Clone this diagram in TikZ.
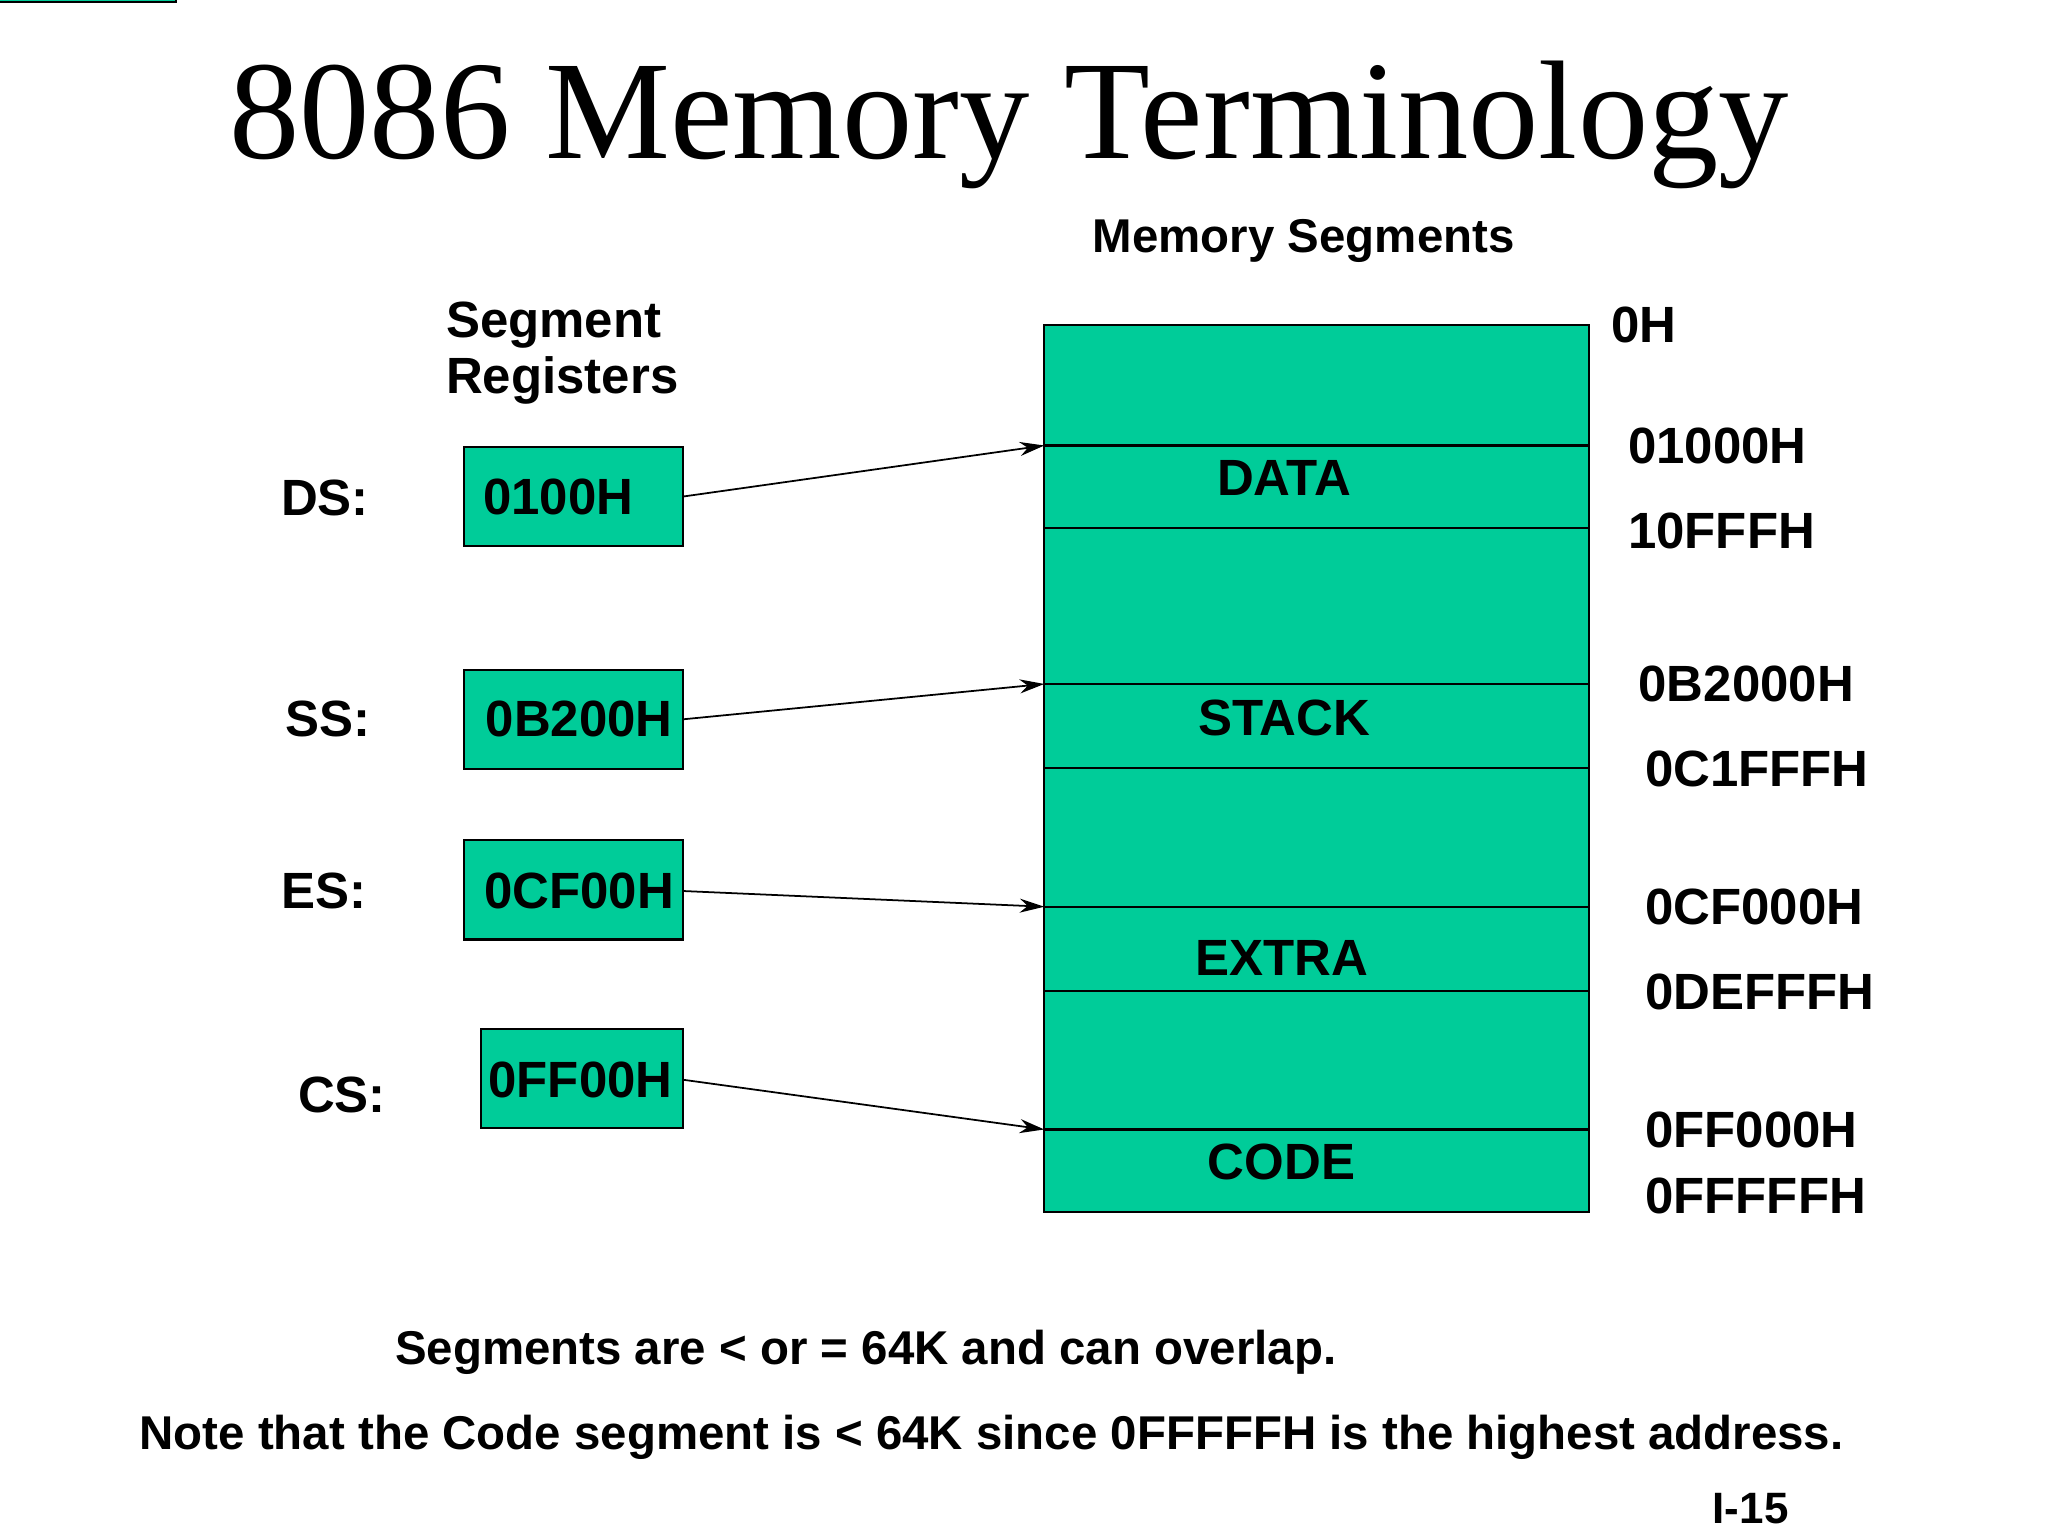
\documentclass[tikz,border=0pt]{standalone}
\usepackage{fontspec}
\setmainfont{Liberation Serif}
\setsansfont{Liberation Sans}
\usetikzlibrary{arrows.meta}
\definecolor{seg}{RGB}{0,204,153}
\begin{document}
\begin{tikzpicture}[x=0.0131cm,y=-0.0131cm,
  lbl/.style={font=\sffamily\bfseries\fontsize{14.5}{16}\selectfont,inner sep=0pt},
  addr/.style={lbl,anchor=west},
  reg/.style={draw=black,fill=seg,line width=0.6pt},
  conn/.style={-{Stealth[length=7pt,width=4pt]},line width=0.5pt}]
\useasboundingbox (0,0) rectangle (1563,1172);
\node[font=\fontsize{40}{44}\selectfont,inner sep=0pt] (title) at (770,95) {8086 Memory Terminology};
\node[lbl,font=\sffamily\bfseries\fontsize{13.5}{15}\selectfont] (ms) at (995,184) {Memory Segments};
\node[lbl,anchor=west] (sr1) at (340,248) {Segment};
\node[lbl,anchor=west] (sr2) at (340,290) {Registers};
% memory
\draw[reg] (797,248) rectangle (1213,925);
\foreach \y in {340,403,522,586,692,756,862}{\draw[line width=0.6pt] (797,\y) -- (1213,\y);}
\coordinate (mds) at (797,340);
\coordinate (mss) at (797,522);
\coordinate (mes) at (797,692);
\coordinate (mcs) at (797,862);
\node[lbl] (data) at (980,365) {DATA};
\node[lbl] (stack) at (980,548) {STACK};
\node[lbl] (extra) at (978,731) {EXTRA};
\node[lbl] (code) at (978,887) {CODE};
% registers
\node[reg,minimum width=167\pgflinewidth,inner sep=0pt] at (0,0) {};
\path[reg] (354,341) rectangle (521,417);
\draw[reg] (354,341) rectangle (521,417);
\draw[reg] (354,511) rectangle (521,587);
\draw[reg] (354,641) rectangle (521,717);
\draw[reg] (367,785) rectangle (521,861);
\node[lbl] (rds) at (426,379) {0100H};
\node[lbl] (rss) at (442,549) {0B200H};
\node[lbl] (res) at (442,680) {0CF00H};
\node[lbl] (rcs) at (443,824) {0FF00H};
\coordinate (eds) at (521,379);
\coordinate (ess) at (521,549);
\coordinate (ees) at (521,680);
\coordinate (ecs) at (521,824);
\draw[conn] (eds) -- (mds);
\draw[conn] (ess) -- (mss);
\draw[conn] (ees) -- (mes);
\draw[conn] (ecs) -- (mcs);
\node[lbl] (lds) at (248,380) {DS:};
\node[lbl] (lss) at (250,549) {SS:};
\node[lbl] (les) at (247,680) {ES:};
\node[lbl] (lcs) at (261,836) {CS:};
% addresses
\node[addr] (a0) at (1229,248) {0H};
\node[addr] (a1) at (1242,340) {01000H};
\node[addr] (a2) at (1242,405) {10FFFH};
\node[addr] (a3) at (1250,522) {0B2000H};
\node[addr] (a4) at (1255,587) {0C1FFFH};
\node[addr] (a5) at (1255,692) {0CF000H};
\node[addr] (a6) at (1255,757) {0DEFFFH};
\node[addr] (a7) at (1255,862) {0FF000H};
\node[addr] (a8) at (1255,913) {0FFFFFH};
% bottom
\node[addr,font=\sffamily\bfseries\fontsize{13.5}{15}\selectfont] (n1) at (301,1032) {Segments are < or = 64K and can overlap.};
\node[addr,font=\sffamily\bfseries\fontsize{13.5}{15}\selectfont] (n2) at (106,1097) {Note that the Code segment is < 64K since 0FFFFFH is the highest address.};
\node[lbl,font=\sffamily\bfseries\fontsize{12.5}{14}\selectfont] (pg) at (1336,1151) {I-15};
\end{tikzpicture}
\end{document}
